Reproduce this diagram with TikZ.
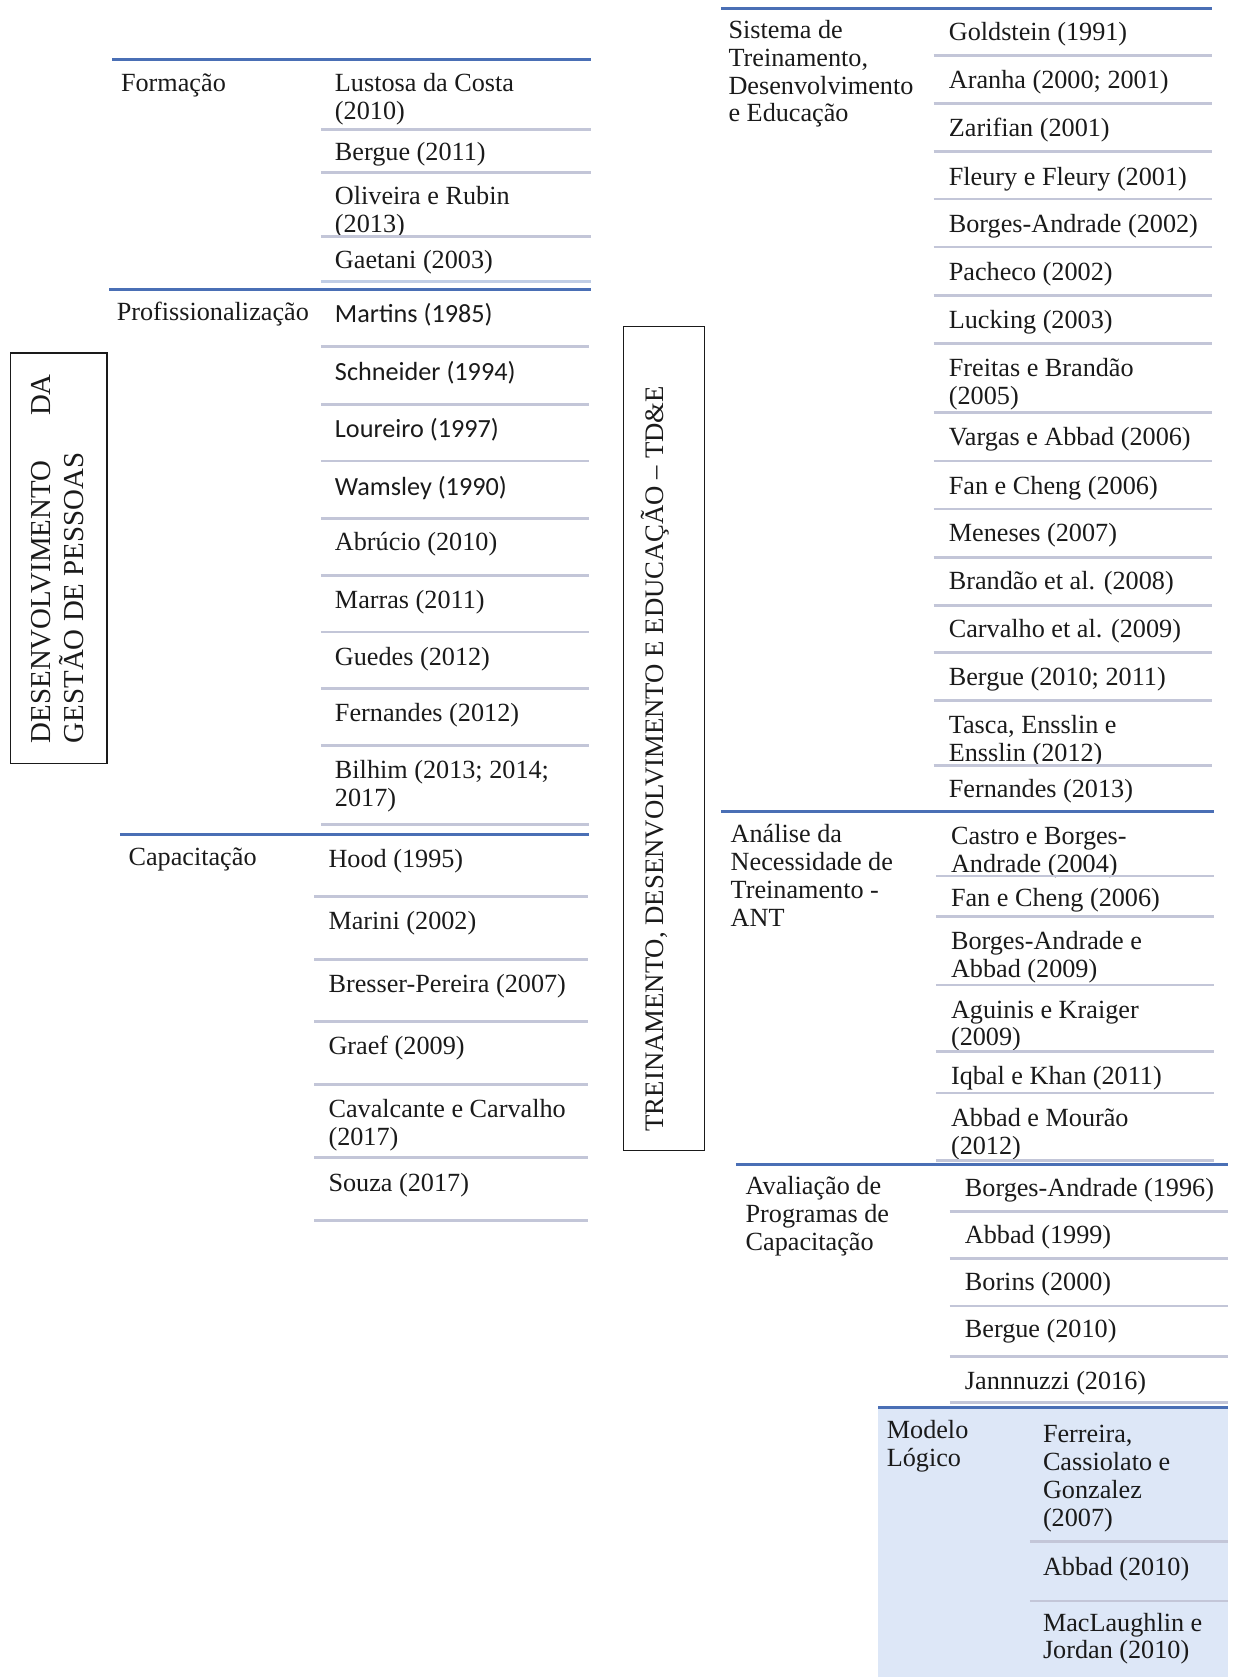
\documentclass[tikz,border=0pt]{standalone}
\usepackage{fontspec}
\setmainfont{Liberation Serif}
\newfontfamily\sansf{Carlito}
\definecolor{ruleblue}{HTML}{4A6FB5}
\definecolor{rulegray}{HTML}{C3C6D8}
\definecolor{panelfill}{HTML}{DDE7F7}
\definecolor{ink}{HTML}{1A1A1A}
% stacked lines, baseline = first line
\newcommand\lns[1]{\vtop{\halign{##\hfil\cr#1\crcr}}}
\tikzset{
  brule/.style={draw=ruleblue, line width=2.8pt},
  grule/.style={draw=rulegray, line width=2.6pt},
  txt/.style={anchor=base west, inner sep=0pt, text=ink, font={\fontsize{24.5}{26}\selectfont}},
  stxt/.style={txt, font={\sansf\fontsize{24.5}{26}\selectfont}},
  frame/.style={draw=ink, line width=1.2pt, inner sep=0pt},
}
\begin{document}
\begin{tikzpicture}[x=1pt,y=-1pt]
\useasboundingbox (0,0) rectangle (1152,1568);

% ---------- left: Desenvolvimento da Gestao de Pessoas ----------
\node[frame, minimum width=90pt, minimum height=384pt] (dgp) at (55,522) {};
\node[rotate=90, anchor=base west, inner sep=0pt, text=ink,
      font={\fontsize{27}{31}\selectfont}] (dgpt) at (47,695)
  {\vtop{\hbox to 345pt{DESENVOLVIMENTO\hfill DA}\hbox{GESTÃO DE PESSOAS}}};

% Formacao
\draw[brule] (105,56) -- (553,56);
\node[txt] (form) at (113,86) {Formação};
\node[txt] (f1) at (313,86) {\lns{Lustosa da Costa\cr(2010)}};
\node[txt] (f2) at (313,150) {Bergue (2011)};
\node[txt] (f3) at (313,191) {\lns{Oliveira e Rubin\cr(2013)}};
\node[txt] (f4) at (313,251) {Gaetani (2003)};
\foreach \y in {121,161,221} \draw[grule] (300,\y) -- (553,\y);
\draw[grule, draw=ruleblue!35] (300,263) -- (553,263);

% Profissionalizacao
\draw[brule] (102,271) -- (553,271);
\node[txt] (prof) at (109,300) {Profissionalização};
\node[stxt] (p1) at (313,302) {Martins (1985)};
\node[stxt] (p2) at (313,356) {Schneider (1994)};
\node[stxt] (p3) at (313,409) {Loureiro (1997)};
\node[stxt] (p4) at (313,463) {Wamsley (1990)};
\node[txt] (p5) at (313,515) {Abrúcio (2010)};
\node[txt] (p6) at (313,569) {Marras (2011)};
\node[txt] (p7) at (313,622) {Guedes (2012)};
\node[txt] (p8) at (313,675) {Fernandes (2012)};
\node[txt] (p9) at (313,728) {\lns{Bilhim (2013; 2014;\cr2017)}};
\foreach \y in {324,378,431,485,538,591,644,697,771} \draw[grule] (300,\y) -- (551,\y);

% Capacitacao
\draw[brule] (112,780) -- (551,780);
\node[txt] (cap) at (120,809) {Capacitação};
\node[txt] (c1) at (307,811) {Hood (1995)};
\node[txt] (c2) at (307,869) {Marini (2002)};
\node[txt] (c3) at (307,928) {Bresser-Pereira (2007)};
\node[txt] (c4) at (307,986) {Graef (2009)};
\node[txt] (c5) at (307,1045) {\lns{Cavalcante e Carvalho\cr(2017)}};
\node[txt] (c6) at (307,1114) {Souza (2017)};
\foreach \y in {838,897,955,1014,1082,1141} \draw[grule] (294,\y) -- (550,\y);

% ---------- middle: TD&E ----------
\node[frame, minimum width=76pt, minimum height=771pt] (tde) at (621,690.5) {};
\node[rotate=90, anchor=base west, inner sep=0pt, text=ink,
      font={\fontsize{25}{26}\selectfont}] (tdet) at (620,1058)
  {TREINAMENTO, DESENVOLVIMENTO E EDUCAÇÃO – TD\&E};

% ---------- right: Sistema de TD&E ----------
\draw[brule] (674,8) -- (1133,8);
\node[txt] (sis) at (681,36) {\lns{Sistema de\cr Treinamento,\cr Desenvolvimento\cr e Educação}};
\node[txt] (s1)  at (887,38)  {Goldstein (1991)};
\node[txt] (s2)  at (887,83)  {Aranha (2000; 2001)};
\node[txt] (s3)  at (887,128) {Zarifian (2001)};
\node[txt] (s4)  at (887,173) {Fleury e Fleury (2001)};
\node[txt] (s5)  at (887,217) {Borges-Andrade (2002)};
\node[txt] (s6)  at (887,262) {Pacheco (2002)};
\node[txt] (s7)  at (887,307) {Lucking (2003)};
\node[txt] (s8)  at (887,352) {\lns{Freitas e Brandão\cr(2005)}};
\node[txt] (s9)  at (887,417) {Vargas e Abbad (2006)};
\node[txt] (s10) at (887,462) {Fan e Cheng (2006)};
\node[txt] (s11) at (887,506) {Meneses (2007)};
\node[txt] (s12) at (887,551) {Brandão et al. (2008)};
\node[txt] (s13) at (887,596) {Carvalho et al. (2009)};
\node[txt] (s14) at (887,641) {Bergue (2010; 2011)};
\node[txt] (s15) at (887,686) {\lns{Tasca, Ensslin e\cr Ensslin (2012)}};
\node[txt] (s16) at (887,746) {Fernandes (2013)};
\foreach \y in {52,97,142,186,231,276,321,386,431,476,521,566,610,655,716} \draw[grule] (873,\y) -- (1133,\y);

% Analise da Necessidade de Treinamento
\draw[brule] (674,759) -- (1135,759);
\node[txt] (ant) at (683,788) {\lns{Análise da\cr Necessidade de\cr Treinamento -\cr ANT}};
\node[txt] (a1) at (889,790)  {\lns{Castro e Borges-\cr Andrade (2004)}};
\node[txt] (a2) at (889,848)  {Fan e Cheng (2006)};
\node[txt] (a3) at (889,888)  {\lns{Borges-Andrade e\cr Abbad (2009)}};
\node[txt] (a4) at (889,952)  {\lns{Aguinis e Kraiger\cr(2009)}};
\node[txt] (a5) at (889,1014) {Iqbal e Khan (2011)};
\node[txt] (a6) at (889,1053) {\lns{Abbad e Mourão\cr(2012)}};
\foreach \y in {819,857,921,983,1022,1085} \draw[grule] (875,\y) -- (1135,\y);

% Avaliacao de Programas de Capacitacao
\draw[brule] (688,1089) -- (1148,1089);
\node[txt] (aval) at (697,1117) {\lns{Avaliação de\cr Programas de\cr Capacitação}};
\node[txt] (v1) at (902,1119) {Borges-Andrade (1996)};
\node[txt] (v2) at (902,1163) {Abbad (1999)};
\node[txt] (v3) at (902,1207) {Borins (2000)};
\node[txt] (v4) at (902,1251) {Bergue (2010)};
\node[txt] (v5) at (902,1299) {Jannnuzzi (2016)};
\foreach \y in {1133,1177,1221,1268,1311} \draw[grule] (888,\y) -- (1148,\y);

% Modelo Logico
\fill[panelfill] (821,1316) rectangle (1148,1568);
\draw[brule] (821,1316) -- (1148,1316);
\node[txt] (ml) at (829,1345) {\lns{Modelo\cr Lógico}};
\node[txt] (m1) at (975,1349) {\lns{Ferreira,\cr Cassiolato e\cr Gonzalez\cr(2007)}};
\node[txt] (m2) at (975,1473) {Abbad (2010)};
\node[txt] (m3) at (975,1525) {\lns{MacLaughlin e\cr Jordan (2010)}};
\foreach \y in {1441,1497} \draw[grule] (963,\y) -- (1148,\y);
\end{tikzpicture}
\end{document}
